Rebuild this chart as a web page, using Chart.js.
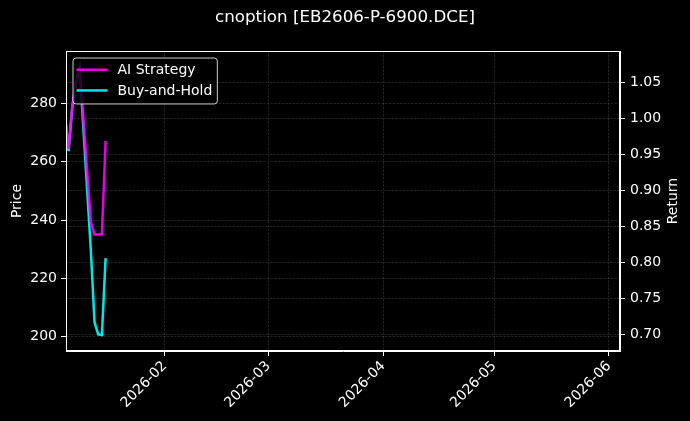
<!DOCTYPE html>
<html>
<head>
<meta charset="utf-8">
<script src="https://cdn.jsdelivr.net/npm/chart.js"></script>
<style>
  html, body { margin: 0; padding: 0; background: #000; }
</style>
</head>
<body>
<canvas id="chart" width="690" height="421"></canvas>
<script>
    // values
    const dates = ['2026-01-05', '2026-01-06', '2026-01-07', '2026-01-08', '2026-01-09',
                   '2026-01-12', '2026-01-13', '2026-01-14', '2026-01-15', '2026-01-16'];
    const aiStrategy = [1.005, 0.958, 1.018, 1.052, 1.070, 0.856, 0.839, 0.839, 0.839, 0.969];
    const buyAndHold = [1.005, 0.955, 1.016, 1.050, 1.070, 0.818, 0.717, 0.700, 0.699, 0.806];

    const monthTicks = ['2026-02-01', '2026-03-01', '2026-04-01', '2026-05-01', '2026-06-01'];
    const priceTicks = [200, 220, 240, 260, 280];
    const returnTicks = [0.70, 0.75, 0.80, 0.85, 0.90, 0.95, 1.00, 1.05];

    const DAY = 86400000;
    const toMs = s => Date.parse(s + 'T00:00:00Z');
    const X_MIN = toMs('2026-01-05') + 0.3 * DAY;
    const X_MAX = toMs('2026-06-04');

    const MAGENTA = 'rgba(255, 0, 255, 0.9)';
    const CYAN = 'rgba(0, 255, 255, 0.9)';
    const GRID = 'rgba(255, 255, 255, 0.17)';
    const FONT = 'DejaVu Sans';

    Chart.defaults.font.family = FONT;
    Chart.defaults.font.size = 14;
    Chart.defaults.color = '#ffffff';

    function series(values) {
        return values.map((v, i) => ({ x: toMs(dates[i]), y: v }));
    }

    function gridOpts() {
        return {
            color: GRID,
            lineWidth: 0.8,
            tickColor: '#ffffff',
            tickLength: 5,
            tickWidth: 1,
            tickBorderDash: []
        };
    }

    // black background, top spine, axis titles and the in-plot legend
    const decor = {
        id: 'decor',
        beforeDraw(chart) {
            const ctx = chart.ctx;
            ctx.save();
            ctx.fillStyle = '#000';
            ctx.fillRect(0, 0, chart.width, chart.height);
            ctx.restore();
        },
        afterDraw(chart) {
            const ctx = chart.ctx;
            const a = chart.chartArea;
            ctx.save();
            ctx.strokeStyle = '#ffffff';
            ctx.lineWidth = 1;
            ctx.strokeRect(Math.round(a.left) + 0.5, Math.round(a.top) + 0.5,
                Math.round(a.right - a.left) - 1, Math.round(a.bottom - a.top) - 1);

            // axis titles
            ctx.fillStyle = '#ffffff';
            ctx.font = '14px ' + FONT;
            ctx.textAlign = 'center';
            ctx.textBaseline = 'middle';
            const midY = (a.top + a.bottom) / 2;
            ctx.save();
            ctx.translate(17, midY);
            ctx.rotate(-Math.PI / 2);
            ctx.fillText('Price', 0, 0);
            ctx.restore();
            ctx.save();
            ctx.translate(673, midY);
            ctx.rotate(-Math.PI / 2);
            ctx.fillText('Return', 0, 0);
            ctx.restore();

            // legend
            const sets = chart.data.datasets;
            const bx = a.left + 7, by = a.top + 7;
            const rowH = 20.7, pad = 5;
            let textW = 0;
            sets.forEach(d => { textW = Math.max(textW, ctx.measureText(d.label).width); });
            const bw = 3.5 + 31 + 10 + textW + pad;
            const bh = sets.length * rowH + 4.5;
            ctx.beginPath();
            ctx.roundRect(bx, by, bw, bh, 3);
            ctx.fillStyle = 'rgba(0, 0, 0, 0.8)';
            ctx.fill();
            ctx.strokeStyle = 'rgba(255, 255, 255, 0.8)';
            ctx.lineWidth = 1;
            ctx.stroke();
            ctx.textAlign = 'left';
            sets.forEach((d, i) => {
                const y = by + 11.7 + i * rowH;
                ctx.beginPath();
                ctx.moveTo(bx + 3.5, y);
                ctx.lineTo(bx + 34.5, y);
                ctx.strokeStyle = d.borderColor;
                ctx.lineWidth = 2.5;
                ctx.stroke();
                ctx.fillStyle = '#ffffff';
                ctx.fillText(d.label, bx + 44.5, y + 0.5);
            });
            ctx.restore();
        }
    };

    new Chart(document.getElementById('chart'), {
        type: 'line',
        data: {
            datasets: [{
                label: 'AI Strategy',
                borderColor: MAGENTA,
                backgroundColor: MAGENTA,
                borderWidth: 2.5,
                pointRadius: 0,
                tension: 0,
                yAxisID: 'yRet',
                data: series(aiStrategy)
            },
            {
                label: 'Buy-and-Hold',
                borderColor: CYAN,
                backgroundColor: CYAN,
                borderWidth: 2.5,
                pointRadius: 0,
                tension: 0,
                yAxisID: 'yRet',
                data: series(buyAndHold)
            }]
        },
        options: {
            responsive: false,
            animation: false,
            layout: { padding: 0 },
            plugins: {
                legend: { display: false },
                tooltip: { enabled: false },
                title: {
                    display: true,
                    text: 'cnoption [EB2606-P-6900.DCE]',
                    color: '#ffffff',
                    font: { size: 16.7, weight: 'normal', family: FONT },
                    padding: { top: 7.5, bottom: 23.5 }
                }
            },
            scales: {
                x: {
                    type: 'linear',
                    min: X_MIN,
                    max: X_MAX,
                    grid: gridOpts(),
                    border: { display: true, color: '#ffffff', width: 1, dash: [2.5, 1.2] },
                    ticks: {
                        color: '#ffffff',
                        maxRotation: 45,
                        minRotation: 45,
                        autoSkip: false,
                        padding: 2,
                        callback: v => new Date(v).toISOString().slice(0, 7)
                    },
                    afterBuildTicks: s => { s.ticks = monthTicks.map(m => ({ value: toMs(m) })); },
                    afterFit: s => { s.height = 70; }
                },
                yPrice: {
                    type: 'linear',
                    position: 'left',
                    min: 195.1,
                    max: 297.93,
                    grid: gridOpts(),
                    border: { display: true, color: '#ffffff', width: 1, dash: [2.5, 1.2] },
                    ticks: { color: '#ffffff', padding: 4 },
                    afterBuildTicks: s => { s.ticks = priceTicks.map(v => ({ value: v })); },
                    afterFit: s => { s.width = 66; }
                },
                yRet: {
                    type: 'linear',
                    position: 'right',
                    min: 0.6768,
                    max: 1.0941,
                    grid: gridOpts(),
                    border: { display: true, color: '#ffffff', width: 1, dash: [2.5, 1.2] },
                    ticks: { color: '#ffffff', padding: 5, callback: v => v.toFixed(2) },
                    afterBuildTicks: s => { s.ticks = returnTicks.map(v => ({ value: v })); },
                    afterFit: s => { s.width = 70; }
                }
            }
        },
        plugins: [decor]
    });
</script>
</body>
</html>
